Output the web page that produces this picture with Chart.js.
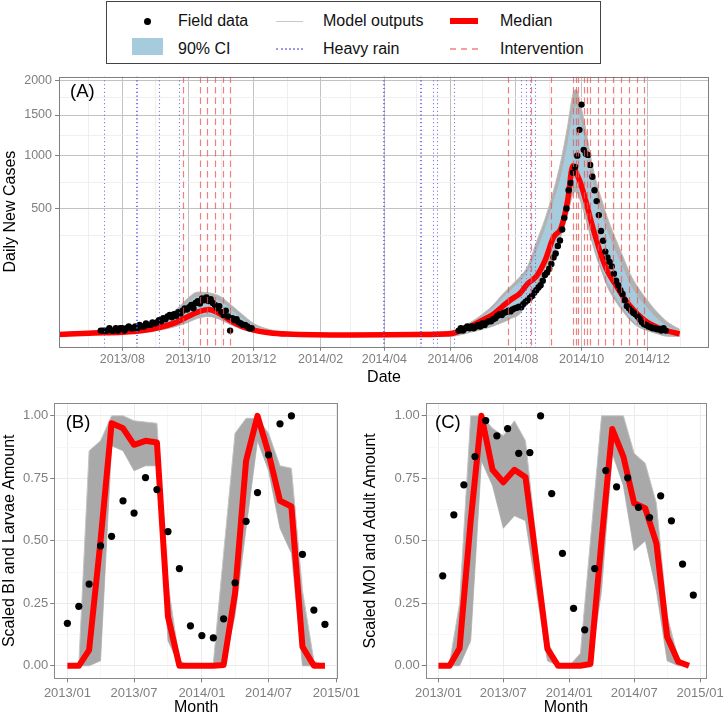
<!DOCTYPE html>
<html>
<head>
<meta charset="utf-8">
<title>Dengue cases and vector indices</title>
<script src="https://cdn.jsdelivr.net/npm/chart.js@4.4.1/dist/chart.umd.min.js"></script>
<style>
  html, body { margin: 0; padding: 0; background: #fff; }
  body { width: 727px; height: 717px; position: relative; overflow: hidden; font-family: 'Liberation Sans', Arial, sans-serif; }
  .box { position: absolute; }
  #legend { position: absolute; left: 106px; top: 1px; width: 495px; height: 63px; border: 1px solid #444; box-sizing: border-box; }
  .lg { position: absolute; font-size: 16px; line-height: 18px; color: #111; white-space: nowrap; }
  .sym { position: absolute; }
</style>
</head>
<body>

<div id="legend"></div>
<div class="sym" style="left:144px;top:18px;width:7px;height:7px;border-radius:50%;background:#000;"></div>
<div class="lg" style="left:178px;top:12px;">Field data</div>
<div class="sym" style="left:276px;top:21px;width:27px;height:1px;background:#c8c8c8;"></div>
<div class="lg" style="left:323px;top:12px;">Model outputs</div>
<div class="sym" style="left:450px;top:18px;width:28px;height:6px;background:#ff0000;"></div>
<div class="lg" style="left:500px;top:12px;">Median</div>
<div class="sym" style="left:132px;top:38px;width:31px;height:17px;background:#a6cbdc;"></div>
<div class="lg" style="left:178px;top:40px;">90% CI</div>
<div class="sym" style="left:276px;top:48px;width:27px;height:0;border-top:2px dotted #9a9ae8;"></div>
<div class="lg" style="left:323px;top:40px;">Heavy rain</div>
<div class="sym" style="left:450px;top:48px;width:28px;height:0;border-top:2px dashed #f3a0a0;"></div>
<div class="lg" style="left:500px;top:40px;">Intervention</div>

<div class="box" style="left:0;top:66px;width:727px;height:330px;"><canvas id="casesChart"></canvas></div>
<div class="box" style="left:0;top:393px;width:363px;height:324px;"><canvas id="larvaeChart"></canvas></div>
<div class="box" style="left:363px;top:393px;width:364px;height:324px;"><canvas id="adultChart"></canvas></div>

<script>
// ---------- panel A: daily new cases ----------
const modelDates = ['2013-06-03', '2013-07-01', '2013-08-01', '2013-08-20', '2013-09-05', '2013-09-20',
  '2013-10-01', '2013-10-10', '2013-10-20', '2013-10-30', '2013-11-10', '2013-11-20', '2013-12-01',
  '2013-12-15', '2014-01-01', '2014-03-01', '2014-05-01', '2014-06-01', '2014-06-20', '2014-07-01',
  '2014-07-10', '2014-07-20', '2014-07-28', '2014-08-05', '2014-08-12', '2014-08-20', '2014-08-28',
  '2014-09-05', '2014-09-12', '2014-09-18', '2014-09-23', '2014-09-26', '2014-09-30', '2014-10-05',
  '2014-10-10', '2014-10-15', '2014-10-20', '2014-10-25', '2014-11-01', '2014-11-08', '2014-11-15',
  '2014-11-22', '2014-12-01', '2014-12-10', '2014-12-20', '2014-12-31'];
const caseMedian = [0.1, 0.3, 0.5, 1.0, 2.5, 6, 12, 18, 22, 16, 7, 3, 1.2, 0.4, 0.15, 0.05, 0.1,
  0.2, 3, 8, 14, 28, 42, 57, 85, 110, 175, 300, 360, 560, 890, 820, 720, 560, 400, 280, 190, 130, 85, 50, 28, 15, 6, 2.5, 0.8, 0.2];
const caseCiHigh = [0.2, 0.6, 1.5, 3, 7, 17, 35, 48, 46, 38, 22, 10, 3.5, 1, 0.3, 0.1, 0.3,
  0.6, 5, 12, 23, 46, 68, 92, 130, 220, 360, 560, 800, 1150, 1550, 1620, 1450, 1120, 800, 600, 450, 340, 230, 150, 85, 50, 25, 10, 3, 1];
const caseCiLow = [0, 0.15, 0.3, 0.7, 1.6, 4, 8, 13, 15, 11, 5, 2, 0.7, 0.2, 0.05, 0, 0,
  0, 0.8, 2.5, 5, 10, 16, 25, 52, 85, 160, 230, 330, 500, 680, 690, 600, 450, 310, 210, 140, 90, 50, 26, 11, 4, 1.5, 0.4, 0.1, 0];
const runMax = [0.3, 0.8, 2, 4, 9, 22, 45, 60, 58, 50, 30, 15, 5, 1.5, 0.5, 0.2, 0.5,
  0.8, 6, 15, 28, 55, 80, 110, 150, 270, 420, 650, 950, 1350, 1800, 1865, 1650, 1306, 950, 720, 560, 430, 300, 200, 120, 75, 40, 18, 6, 1.5];
const runMin = [0, 0.1, 0.2, 0.5, 1.2, 3, 6, 10, 12, 9, 4, 1.5, 0.5, 0.1, 0, 0, 0,
  0, 0.5, 1.5, 3, 6, 10, 16, 40, 70, 140, 200, 310, 450, 620, 640, 560, 420, 290, 190, 125, 75, 40, 20, 8, 3, 1, 0.2, 0, 0];

// field data, one value every fieldStep days from the start date
const fieldStep = 2;
const fieldStart2013 = '2013-07-12';
const fieldCases2013 = [1, 1, 1, 1, 2, 1, 1, 2, 1, 2, 2,
  1, 2, 3, 2, 2, 3, 2, 4, 3, 3, 5, 4, 4, 6, 5,
  6, 8, 7, 10, 9, 12, 14, 11, 15, 13, 18, 16, 20, 24, 22,
  26, 30, 24, 34, 38, 33, 44, 40, 46, 38, 42, 34, 30, 24, 28,
  18, 14, 20, 12, 1, 10, 8, 9, 6, 5, 4, 4, 3, 2, 2];
const fieldStart2014 = '2014-06-09';
const fieldCases2014 = [1, 2, 1, 2, 3,
  2, 3, 2, 3, 4, 3, 5, 4, 6, 7, 7,
  9, 10, 13, 15, 14, 17, 18, 20, 19, 22, 24,
  25, 27, 26, 32, 36, 40, 45, 50, 58, 65, 73,
  80, 95, 115, 125, 140, 160, 190, 210, 250, 281, 350,
  430, 500, 654, 720, 820, 880, 1000, 1306, 1645, 1065, 1020,
  1008, 900, 780, 654, 560, 450, 340, 280, 220, 190, 170,
  150, 120, 95, 80, 65, 55, 40, 28, 24, 20, 17,
  15, 12, 9, 6, 4.5, 4, 3, 2.5, 2, 2, 1.5,
  1.5, 1, 2, 1];

const heavyRain = ['2013-07-15', '2013-08-14', '2013-08-15', '2013-09-04', '2013-09-23',
  '2014-03-31', '2014-04-01', '2014-05-04', '2014-05-05', '2014-05-16', '2014-05-20', '2014-06-05',
  '2014-08-06', '2014-08-10', '2014-08-14', '2014-08-19'];
const intervention = ['2013-09-26', '2013-10-12', '2013-10-19', '2013-10-26', '2013-11-02', '2013-11-09',
  '2014-07-25', '2014-08-15', '2014-09-03', '2014-09-23', '2014-09-26', '2014-09-28', '2014-10-03',
  '2014-10-06', '2014-10-09', '2014-10-16', '2014-10-23', '2014-10-30', '2014-11-07', '2014-11-14',
  '2014-11-21', '2014-11-28'];

const dateTicks = ['2013-08', '2013-10', '2013-12', '2014-02', '2014-04', '2014-06', '2014-08', '2014-10', '2014-12'];
const dateMinorTicks = ['2013-07', '2013-09', '2013-11', '2014-01', '2014-03', '2014-05', '2014-07', '2014-09', '2014-11', '2015-01'];
const caseTicks = [500, 1000, 1500, 2000];
const caseMinorTicks = [314, 729, 1237, 1741];

// ---------- panels B and C: monthly vector indices ----------
const months = ['2013-01', '2013-02', '2013-03', '2013-04', '2013-05', '2013-06', '2013-07', '2013-08',
  '2013-09', '2013-10', '2013-11', '2013-12', '2014-01', '2014-02', '2014-03', '2014-04', '2014-05',
  '2014-06', '2014-07', '2014-08', '2014-09', '2014-10', '2014-11', '2014-12'];
const larvaeField = [0.17, 0.238, 0.327, 0.48, 0.518, 0.66, 0.611, 0.753, 0.705, 0.537, 0.389, 0.16,
  0.121, 0.112, 0.188, 0.332, 0.578, 0.693, 0.844, 0.968, 1.0, 0.446, 0.223, 0.166];
const larvaeMedian = [0, 0, 0.063, 0.5, 0.97, 0.95, 0.884, 0.9, 0.893, 0.196, 0, 0,
  0, 0, 0.003, 0.29, 0.82, 1.0, 0.85, 0.66, 0.637, 0.076, 0, 0];
const larvaeMax = [0, 0.005, 0.86, 0.9, 1.0, 1.0, 0.98, 0.975, 0.97, 0.33, 0.02, 0,
  0, 0.01, 0.45, 0.93, 0.99, 0.99, 0.93, 0.8, 0.79, 0.3, 0.02, 0];
const larvaeMin = [0, 0, 0, 0.02, 0.88, 0.86, 0.78, 0.8, 0.8, 0.1, 0, 0,
  0, 0, 0, 0.2, 0.55, 0.9, 0.78, 0.55, 0.45, 0, 0, 0];

const adultFieldDay = 13; // adult survey points sit mid-month
const adultField = [0.36, 0.604, 0.724, 0.837, 0.981, 0.92, 0.949, 0.85, 0.853, 1.0, 0.689, 0.45,
  0.23, 0.144, 0.389, 0.781, 0.716, 0.752, 0.634, 0.593, 0.68, 0.58, 0.407, 0.283];
const adultMedian = [0, 0, 0.07, 0.58, 1.0, 0.784, 0.734, 0.784, 0.754, 0.42, 0.068, 0,
  0, 0, 0.007, 0.5, 0.947, 0.837, 0.65, 0.63, 0.49, 0.116, 0.016, 0];
const adultMax = [0, 0.01, 0.25, 1.0, 1.0, 0.95, 0.92, 0.98, 0.9, 0.5, 0.1, 0.01,
  0, 0.05, 0.5, 1.0, 1.0, 1.0, 0.85, 0.81, 0.65, 0.2, 0.03, 0];
const adultMin = [0, 0, 0, 0.1, 0.82, 0.72, 0.55, 0.6, 0.58, 0.3, 0.02, 0,
  0, 0, 0, 0.3, 0.85, 0.72, 0.46, 0.5, 0.3, 0.02, 0, 0];

const monthTicks = ['2013-01', '2013-07', '2014-01', '2014-07', '2015-01'];
const monthMinorTicks = ['2013-04', '2013-10', '2014-04', '2014-10'];
const scaledTicks = [0, 0.25, 0.5, 0.75, 1];
const scaledMinorTicks = [0.125, 0.375, 0.625, 0.875];

// ---------- helpers ----------
const FONT = "'Liberation Sans', Arial, sans-serif";
const DAY0 = Date.UTC(2013, 0, 1);

function dayOf(s) {
  const p = s.split('-').map(Number);
  return (Date.UTC(p[0], p[1] - 1, p[2] || 1) - DAY0) / 864e5;
}
function monthLabel(v) {
  const d = new Date(DAY0 + v * 864e5);
  return d.getUTCFullYear() + '/' + String(d.getUTCMonth() + 1).padStart(2, '0');
}
function xy(dates, vals, day) {
  return vals.map((v, i) => ({ x: dayOf(dates[i] + (day ? '-' + day : '')), y: v }));
}
function stepped(start, vals) {
  const d0 = dayOf(start);
  return vals.map((v, i) => ({ x: d0 + i * fieldStep, y: v }));
}
function tickList(major, minor) {
  return major.map(v => ({ value: v, isMajor: true }))
    .concat(minor.map(v => ({ value: v, isMajor: false })))
    .sort((a, b) => a.value - b.value);
}

// square-root axis (ggplot's sqrt transform)
const sgnSqrt = v => Math.sign(v) * Math.sqrt(Math.abs(v));
class SqrtScale extends Chart.LinearScale {
  configure() {
    super.configure();
    this._tLo = sgnSqrt(this.min);
    this._tHi = sgnSqrt(this.max);
  }
  getPixelForValue(v) {
    if (v === null || v === undefined) return NaN;
    return this.getPixelForDecimal((sgnSqrt(v) - this._tLo) / (this._tHi - this._tLo));
  }
  getValueForPixel(p) {
    const t = this._tLo + this.getDecimalForPixel(p) * (this._tHi - this._tLo);
    return Math.sign(t) * t * t;
  }
}
SqrtScale.id = 'sqrt';
SqrtScale.defaults = { ticks: { callback: Chart.Ticks.formatters.numeric } };
Chart.register(SqrtScale);

Chart.defaults.font.family = FONT;
Chart.defaults.animation = false;
Chart.defaults.events = [];
Chart.defaults.plugins.legend.display = false;
Chart.defaults.plugins.tooltip.enabled = false;

// frame + panel tag drawn over the data
const panelFrame = {
  id: 'panelFrame',
  afterDatasetsDraw(chart, args, opts) {
    const { ctx, chartArea: a } = chart;
    ctx.save();
    ctx.strokeStyle = opts.color;
    ctx.lineWidth = 1;
    ctx.strokeRect(Math.round(a.left) + 0.5, Math.round(a.top) + 0.5, Math.round(a.width) - 1, Math.round(a.height));
    ctx.fillStyle = '#000';
    ctx.font = opts.size + 'px ' + FONT;
    ctx.textBaseline = 'middle';
    ctx.fillText(opts.tag, a.left + opts.dx, a.top + opts.dy);
    ctx.restore();
  }
};

// heavy rain and intervention dates as vertical reference lines
const eventLines = {
  id: 'eventLines',
  afterDatasetsDraw(chart) {
    const { ctx, chartArea: a, scales: { x } } = chart;
    ctx.save();
    ctx.beginPath();
    ctx.rect(a.left, a.top, a.width, a.height);
    ctx.clip();
    const draw = (dates, color, dash, w) => {
      ctx.strokeStyle = color;
      ctx.lineWidth = w;
      ctx.setLineDash(dash);
      dates.forEach(s => {
        const px = Math.round(x.getPixelForValue(dayOf(s))) + 0.5;
        ctx.beginPath();
        ctx.moveTo(px, a.top);
        ctx.lineTo(px, a.bottom);
        ctx.stroke();
      });
    };
    draw(heavyRain, 'rgba(95,95,225,0.8)', [1.2, 2.6], 1.1);
    draw(intervention, 'rgba(235,85,85,0.75)', [6.5, 4], 1.2);
    ctx.restore();
  }
};

function dateAxis(major, minor, lo, hi, fitHeight, o) {
  const majorDays = major.map(dayOf), minorDays = minor.map(dayOf);
  return {
    type: 'linear', min: lo, max: hi, bounds: 'data',
    afterBuildTicks: s => { s.ticks = tickList(majorDays, minorDays); },
    afterFit: s => { s.height = fitHeight; },
    ticks: {
      autoSkip: false, maxRotation: 0, padding: o.tickPad, color: '#7f7f7f',
      font: { size: o.tickSize },
      callback: (v, i, t) => (t[i] && t[i].isMajor ? monthLabel(v) : '')
    },
    grid: {
      color: c => (c.tick && c.tick.isMajor ? o.majorGrid : o.minorGrid),
      lineWidth: c => (c.tick && c.tick.isMajor ? 1 : 0.8),
      tickLength: 4,
      tickColor: c => (c.tick && c.tick.isMajor ? '#7f7f7f' : 'rgba(0,0,0,0)')
    },
    border: { display: false },
    title: {
      display: true, text: o.title, color: '#000',
      font: { size: 16, lineHeight: 1.1 }, padding: { top: 0, bottom: o.titlePad }
    }
  };
}

function valueAxis(type, lo, hi, major, minor, fitWidth, o) {
  return {
    type: type, min: lo, max: hi, bounds: 'data',
    afterBuildTicks: s => { s.ticks = tickList(major, minor); },
    afterFit: s => { s.width = fitWidth; },
    ticks: {
      autoSkip: false, padding: o.tickPad, color: '#7f7f7f',
      font: { size: o.tickSize },
      callback: (v, i, t) => (t[i] && t[i].isMajor ? o.fmt(v) : '')
    },
    grid: {
      color: c => (c.tick && c.tick.isMajor ? o.majorGrid : o.minorGrid),
      lineWidth: c => (c.tick && c.tick.isMajor ? 1 : 0.8),
      tickLength: 4,
      tickColor: c => (c.tick && c.tick.isMajor ? '#7f7f7f' : 'rgba(0,0,0,0)')
    },
    border: { display: false },
    title: {
      display: true, text: o.title, color: '#000',
      font: { size: 16, lineHeight: 1.0 }, padding: { top: o.titlePad, bottom: 0 }
    }
  };
}

// ---------- panel A ----------
const ctxCases = document.getElementById('casesChart');
if (ctxCases) {
  new Chart(ctxCases, {
    type: 'line',
    data: {
      datasets: [
        { data: stepped(fieldStart2013, fieldCases2013), showLine: false, pointRadius: 3.2,
          pointBackgroundColor: '#000', pointBorderWidth: 0 },
        { data: stepped(fieldStart2014, fieldCases2014), showLine: false, pointRadius: 3.2,
          pointBackgroundColor: '#000', pointBorderWidth: 0 },
        { data: xy(modelDates, caseMedian), borderColor: '#ff0000', borderWidth: 5.5, pointRadius: 0,
          borderJoinStyle: 'round', cubicInterpolationMode: 'monotone', fill: false },
        { data: xy(modelDates, caseCiHigh), borderWidth: 0, pointRadius: 0,
          cubicInterpolationMode: 'monotone', fill: '+1', backgroundColor: '#a6cbdc' },
        { data: xy(modelDates, caseCiLow), borderWidth: 0, pointRadius: 0,
          cubicInterpolationMode: 'monotone', fill: false },
        { data: xy(modelDates, runMax), borderColor: '#bdbdbd', borderWidth: 1, pointRadius: 0,
          cubicInterpolationMode: 'monotone', fill: '+1', backgroundColor: '#b1b1b1' },
        { data: xy(modelDates, runMin), borderColor: '#bdbdbd', borderWidth: 1, pointRadius: 0,
          cubicInterpolationMode: 'monotone', fill: false }
      ]
    },
    options: {
      responsive: true,
      maintainAspectRatio: false,
      layout: { padding: { top: 10, right: 18, left: 0, bottom: 0 } },
      scales: {
        x: dateAxis(dateTicks, dateMinorTicks, 153.3, 756.2, 49.3,
          { title: 'Date', tickSize: 12.5, tickPad: 1, titlePad: 9.2, majorGrid: '#c2c2c2', minorGrid: '#ebebeb' }),
        y: valueAxis('sqrt', -3.3, 2068, caseTicks, caseMinorTicks, 59,
          { title: 'Daily New Cases', tickSize: 12.5, tickPad: 3, titlePad: 3, fmt: v => String(v),
            majorGrid: '#c2c2c2', minorGrid: '#ebebeb' })
      },
      plugins: {
        panelFrame: { color: '#7f7f7f', tag: '(A)', size: 18.5, dx: 11, dy: 15.5 }
      }
    },
    plugins: [eventLines, panelFrame]
  });
}

// ---------- panels B and C ----------
function monthlyPanel(id, field, fieldDay, median, hi, lo, yWidth, rightPad, title, tag, tagDx) {
  const el = document.getElementById(id);
  if (!el) return;
  new Chart(el, {
    type: 'line',
    data: {
      datasets: [
        { data: xy(months, field, fieldDay), showLine: false, pointRadius: 3.6,
          pointBackgroundColor: '#000', pointBorderWidth: 0 },
        { data: xy(months, median), borderColor: '#ff0000', borderWidth: 6, pointRadius: 0,
          borderJoinStyle: 'round', tension: 0, fill: false },
        { data: xy(months, hi), borderColor: '#c4c4c4', borderWidth: 1, pointRadius: 0,
          tension: 0, fill: '+1', backgroundColor: '#a9a9a9' },
        { data: xy(months, lo), borderColor: '#c4c4c4', borderWidth: 1, pointRadius: 0,
          tension: 0, fill: false }
      ]
    },
    options: {
      responsive: true,
      maintainAspectRatio: false,
      layout: { padding: { top: 10.3, right: rightPad, left: 0, bottom: 0 } },
      scales: {
        x: dateAxis(monthTicks, monthMinorTicks, -35.5, fieldDay ? 747 : 734.5, 38.7,
          { title: 'Month', tickSize: 13, tickPad: 3, titlePad: 0.2, majorGrid: '#ebebeb', minorGrid: '#f5f5f5' }),
        y: valueAxis('linear', -0.05, 1.05, scaledTicks, scaledMinorTicks, yWidth,
          { title: title, tickSize: 13, tickPad: 2, titlePad: yWidth > 60 ? 0 : 2, fmt: v => v.toFixed(2),
            majorGrid: '#ebebeb', minorGrid: '#f5f5f5' })
      },
      plugins: {
        panelFrame: { color: '#8a8a8a', tag: tag, size: 18.5, dx: tagDx, dy: 20 }
      }
    },
    plugins: [panelFrame]
  });
}

monthlyPanel('larvaeChart', larvaeField, null, larvaeMedian, larvaeMax, larvaeMin, 54.3, 23,
  'Scaled BI and Larvae Amount', '(B)', 11.4);
monthlyPanel('adultChart', adultField, adultFieldDay, adultMedian, adultMax, adultMin, 62.7, 18,
  'Scaled MOI and Adult Amount', '(C)', 9.3);
</script>
</body>
</html>
